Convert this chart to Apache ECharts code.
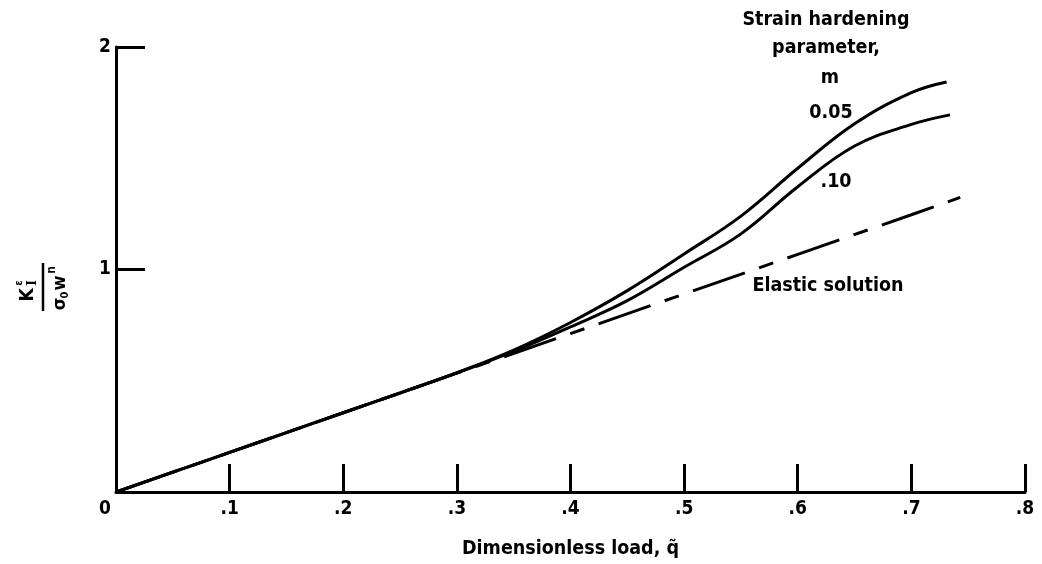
<!DOCTYPE html>
<html>
<head>
<meta charset="utf-8">
<script src="https://cdn.jsdelivr.net/npm/echarts@6/dist/echarts.min.js"></script>
<style>
html,body{margin:0;padding:0;background:#fff;}
#chart{width:1042px;height:564px;}
</style>
</head>
<body>
<div id="chart"></div>
<script>
// ---- data ----
const elasticX = [0, 0.1, 0.2, 0.3, 0.4, 0.5, 0.6, 0.7, 0.743];
const elasticY = [0, 0.178, 0.356, 0.534, 0.712, 0.89, 1.068, 1.246, 1.324];

const m005X = [0, 0.05, 0.1, 0.15, 0.2, 0.25, 0.3, 0.35, 0.4, 0.45, 0.5, 0.55, 0.6, 0.65, 0.7, 0.731];
const m005Y = [0, 0.089, 0.178, 0.267, 0.356, 0.445, 0.536, 0.638, 0.762, 0.905, 1.07, 1.24, 1.455, 1.655, 1.795, 1.843];

const m010X = [0, 0.05, 0.1, 0.15, 0.2, 0.25, 0.3, 0.35, 0.4, 0.45, 0.5, 0.55, 0.6, 0.65, 0.7, 0.734];
const m010Y = [0, 0.089, 0.178, 0.267, 0.356, 0.445, 0.535, 0.632, 0.742, 0.86, 1.01, 1.16, 1.372, 1.555, 1.652, 1.695];

const xTicks = [0, 0.1, 0.2, 0.3, 0.4, 0.5, 0.6, 0.7, 0.8];
const xTickLabels = ['0', '.1', '.2', '.3', '.4', '.5', '.6', '.7', '.8'];
const yTickLabels = ['', '1', '2'];

const xName = 'Dimensionless load, q\u0303';
const legendTitle = ['Strain hardening', 'parameter,', 'm'];
const seriesLabels = ['0.05', '.10', 'Elastic solution'];

function zip(xs, ys) { return xs.map((x, i) => [x, ys[i]]); }

const FONT = '"DejaVu Sans Condensed", "DejaVu Sans", sans-serif';
const chart = echarts.init(document.getElementById('chart'), null, {renderer: 'canvas'});

const txt = (text, x, y, size) => ({
  type: 'text', x: x, y: y,
  style: {text: text, fill: '#000', font: 'bold ' + size + 'px ' + FONT, textAlign: 'center', textVerticalAlign: 'middle'}
});

const option = {
  backgroundColor: '#fff',
  animation: false,
  grid: {left: 116, right: 17, top: 47, bottom: 66, containLabel: false},
  xAxis: {
    type: 'value', min: 0, max: 0.8, interval: 0.1,
    name: xName, nameLocation: 'middle', nameGap: 47,
    nameTextStyle: {fontFamily: FONT, fontWeight: 'bold', fontSize: 19.5, color: '#000'},
    axisLine: {show: true, onZero: false, lineStyle: {color: '#000', width: 3}},
    axisTick: {show: true, inside: true, length: 28, lineStyle: {color: '#000', width: 3}},
    axisLabel: {
      show: true, margin: 8, fontFamily: FONT, fontWeight: 'bold', fontSize: 19, color: '#000',
      formatter: function (v) {
        const i = xTicks.findIndex(t => Math.abs(t - v) < 1e-6);
        const s = i >= 0 ? xTickLabels[i] : '';
        return i === 0 ? '{z|' + s + '}' : s;
      },
      rich: {z: {fontFamily: FONT, fontWeight: 'bold', fontSize: 19, color: '#000', padding: [0, 22, 0, 0]}}
    },
    splitLine: {show: false}
  },
  yAxis: {
    type: 'value', min: 0, max: 2, interval: 1,
    axisLine: {show: true, onZero: false, lineStyle: {color: '#000', width: 3}},
    axisTick: {show: true, inside: true, length: 29, lineStyle: {color: '#000', width: 3}},
    axisLabel: {
      show: true, margin: 5, fontFamily: FONT, fontWeight: 'bold', fontSize: 19, color: '#000',
      formatter: function (v) { return yTickLabels[Math.round(v)] || ''; }
    },
    splitLine: {show: false}
  },
  series: [
    {
      name: seriesLabels[2], type: 'line', data: zip(elasticX, elasticY),
      showSymbol: false, smooth: false, z: 1,
      lineStyle: {color: '#000', width: 3, type: [55, 15, 15, 15], dashOffset: 89}
    },
    {
      name: seriesLabels[0], type: 'line', data: zip(m005X, m005Y),
      showSymbol: false, smooth: 0.4, z: 2,
      lineStyle: {color: '#000', width: 3}
    },
    {
      name: seriesLabels[1], type: 'line', data: zip(m010X, m010Y),
      showSymbol: false, smooth: 0.4, z: 2,
      lineStyle: {color: '#000', width: 3}
    }
  ],
  graphic: [
    txt(legendTitle[0], 826, 20, 19.5),
    txt(legendTitle[1], 826, 48, 19.5),
    txt(legendTitle[2], 830, 78, 19.5),
    txt(seriesLabels[0], 831, 113, 19.5),
    txt(seriesLabels[1], 836, 182, 19.5),
    txt(seriesLabels[2], 828, 286, 19.5),
    {
      type: 'group', x: 50, y: 287, rotation: Math.PI / 2,
      children: [
        {type: 'text', x: -8, y: -22, style: {text: 'K', fill: '#000', font: 'bold 19px ' + FONT, textAlign: 'center', textVerticalAlign: 'middle'}},
        {type: 'text', x: 4, y: -17, style: {text: 'I', fill: '#000', font: 'bold 12px "DejaVu Serif", serif', textAlign: 'center', textVerticalAlign: 'middle'}},
        {type: 'text', x: 4, y: -31, style: {text: '\u03b5', fill: '#000', font: 'bold 11px ' + FONT, textAlign: 'center', textVerticalAlign: 'middle'}},
        {type: 'line', shape: {x1: -24, y1: -7, x2: 24, y2: -7}, style: {stroke: '#000', lineWidth: 2.5}},
        {type: 'text', x: -17, y: 10, style: {text: '\u03c3', fill: '#000', font: 'bold 18px ' + FONT, textAlign: 'center', textVerticalAlign: 'middle'}},
        {type: 'text', x: -8, y: 15, style: {text: '0', fill: '#000', font: 'bold 11px ' + FONT, textAlign: 'center', textVerticalAlign: 'middle'}},
        {type: 'text', x: 4, y: 10, style: {text: 'w', fill: '#000', font: 'bold 18px ' + FONT, textAlign: 'center', textVerticalAlign: 'middle'}},
        {type: 'text', x: 17, y: 2, style: {text: 'n', fill: '#000', font: 'bold 12px ' + FONT, textAlign: 'center', textVerticalAlign: 'middle'}}
      ]
    }
  ]
};
chart.setOption(option);
</script>
</body>
</html>
